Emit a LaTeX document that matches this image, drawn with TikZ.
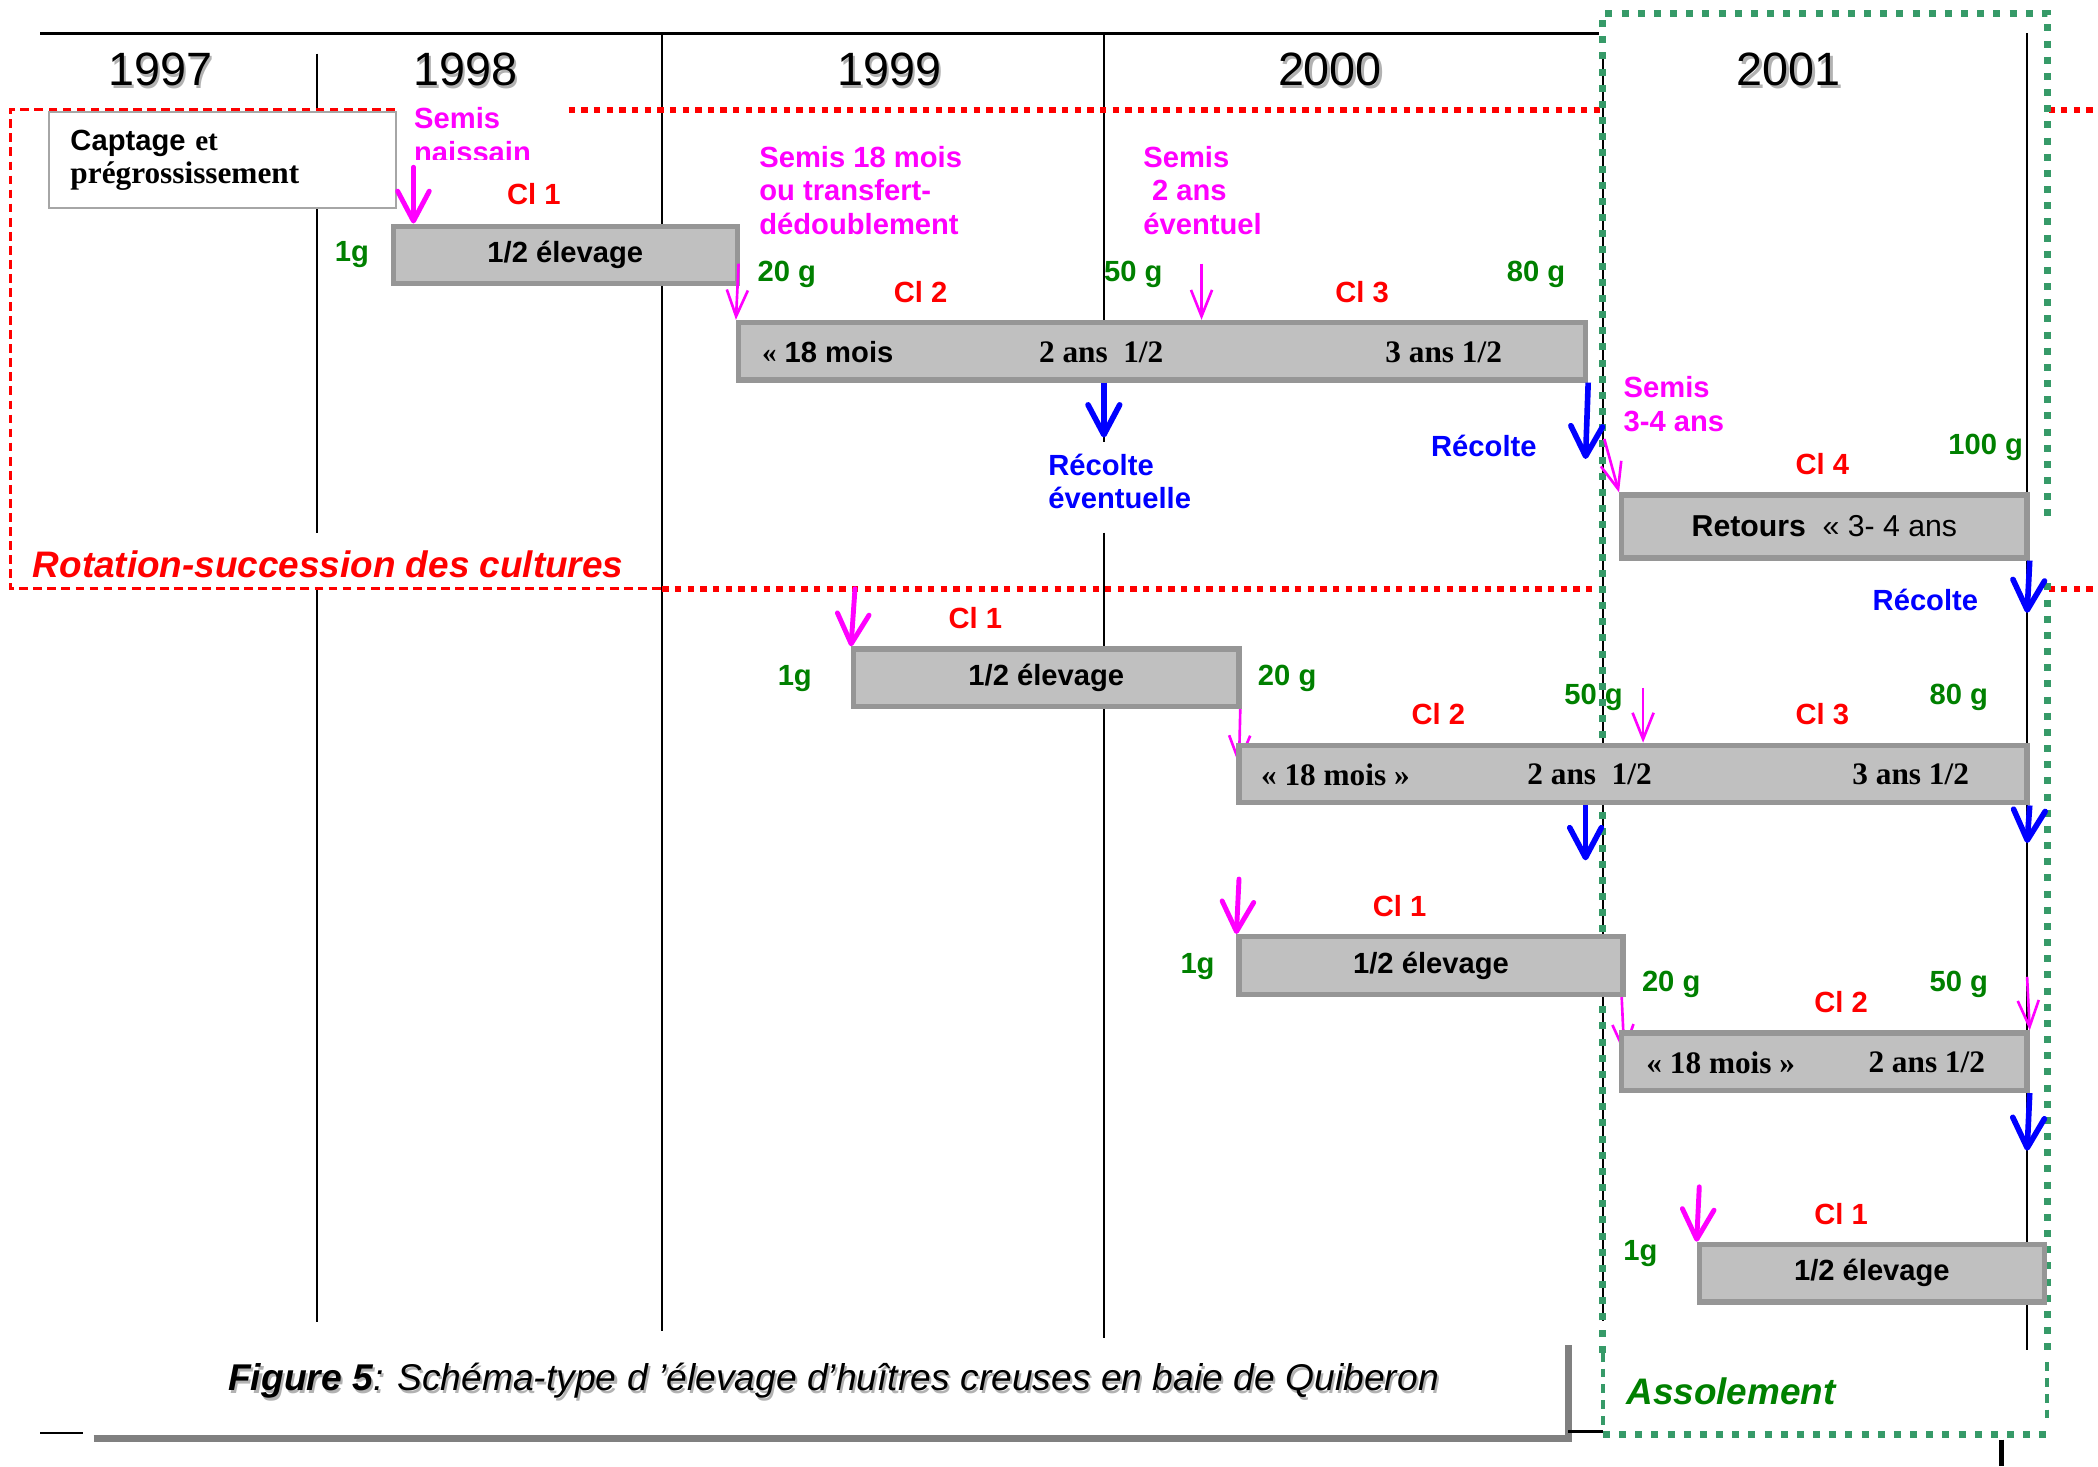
\documentclass[tikz,border=0pt]{standalone}
\usepackage{fontspec}
\setmainfont{Liberation Sans}
\newfontfamily\timesfont{Liberation Serif}
\usetikzlibrary{positioning}
\usetikzlibrary{fit}
\usetikzlibrary{arrows.meta}
\definecolor{semiscol}{HTML}{FF00FF}
\definecolor{cicol}{HTML}{FF0000}
\definecolor{poidscol}{HTML}{008000}
\definecolor{recoltecol}{HTML}{0000FF}
\definecolor{barfill}{HTML}{C0C0C0}
\definecolor{barline}{HTML}{969696}
\definecolor{assolcol}{HTML}{369A68}
\newcommand{\lblfont}{\fontsize{8.3}{9.46}\selectfont\bfseries}
\newcommand{\ombre}[1]{\leavevmode\rlap{\hspace{0.6pt}\raisebox{-0.6pt}{\textcolor{black!30}{#1}}}#1}
\tikzset{
    bar/.style={
           rectangle,
           draw=barline, line width=1.5pt,
           fill=barfill,
           inner sep=0pt,
           },
    bartxt/.style={inner sep=0pt, font=\lblfont},
    timestxt/.style={inner sep=0pt, font=\fontsize{8.9}{10}\selectfont\timesfont\bfseries},
    year/.style={font=\fontsize{13.3}{15}\selectfont},
    ci/.style={text=cicol, font=\lblfont},
    poids/.style={text=poidscol, font=\lblfont},
    semistxt/.style={text=semiscol, font=\lblfont, align=left, inner sep=0pt, anchor=north west},
    recoltetxt/.style={text=recoltecol, font=\lblfont, align=left, inner sep=0pt},
    semis/.style={draw=semiscol, line width=1.4pt, line cap=round,
                  -{Straight Barb[length=8.5pt,width=9pt,round]}},
    semisfin/.style={draw=semiscol, line width=0.75pt,
                  -{Straight Barb[length=7.5pt,width=6pt]}},
    recolte/.style={draw=recoltecol, line width=1.6pt,
                  -{Straight Barb[length=8.5pt,width=9pt,round]}},
    sep/.style={line width=0.6pt},
    rotfin/.style={draw=cicol, line width=0.9pt, dash pattern=on 2.5pt off 1.5pt},
    rotdot/.style={draw=cicol, line width=1.8pt, dash pattern=on 1.8pt off 1.8pt},
    assoldot/.style={draw=assolcol, line width=2pt, dash pattern=on 2pt off 2.6pt},
    assolfin/.style={draw=assolcol, line width=1.1pt, dash pattern=on 2.5pt off 2pt},
}
\begin{document}
\begin{tikzpicture}[x=0.1338mm, y=-0.1338mm]
\useasboundingbox (0,0) rectangle (1568,1096);

% annees
\draw[sep] (30,25) -- (1195,25);
\foreach \xx/\ya/\yb in {237/40/398, 237/440/988, 495/25/995, 825/25/330,
                         825/398/1000, 1198/40/987, 1515/25/1009}
    \draw[sep] (\xx,\ya) -- (\xx,\yb);
\node[year] (y1997) at (120,53) {\ombre{1997}};
\node[year] (y1998) at (348,53) {\ombre{1998}};
\node[year] (y1999) at (665,53) {\ombre{1999}};
\node[year] (y2000) at (994,53) {\ombre{2000}};
\node[year] (y2001) at (1337,53) {\ombre{2001}};

% rotation-succession
\node[draw=gray!70, line width=0.6pt, fill=white, anchor=north west,
      minimum width=34.65mm, minimum height=9.63mm, inner xsep=2.1mm,
      text width=30.4mm, align=left, font=\lblfont] (captage) at (36,83)
      {Captage {\timesfont et}\\{\timesfont\fontsize{8.9}{9.46}\selectfont prégrossissement}};
\draw[rotfin] (295,82) -- (8,82) -- (8,440) -- (495,440);
\draw[rotdot] (425,82) -- (1196,82);
\draw[rotdot] (495,440) -- (1196,440);
\draw[rotdot] (1531,82) -- (1568,82);
\draw[rotdot] (1531,440) -- (1568,440);
\node[anchor=west, inner sep=0pt, text=cicol,
      font=\fontsize{10.5}{12}\selectfont\bfseries\itshape] (rotation) at (24,422)
      {Rotation-succession des cultures};

% assolement
\draw[assoldot] (1198,1011) -- (1198,10) -- (1530,10) -- (1530,387);
\draw[assoldot] (1530,436) -- (1530,1014);
\draw[assoldot] (1198,1072) -- (1530,1072);
\draw[assolfin] (1198,1011) -- (1198,1070);
\draw[assolfin] (1530,1018) -- (1530,1060);
\node[anchor=west, inner sep=0pt, text=poidscol,
      font=\fontsize{10.5}{12}\selectfont\bfseries\itshape] (assol) at (1215,1040)
      {Assolement};

% fleches cachees sous les barres
\coordinate (s6) at (927,528);
\draw[semisfin] (s6) -- (926,572);
\coordinate (s9) at (1212,745);
\draw[semisfin] (s9) -- (1214,788);

% barres
\node[bar, fit={(294,169) (551,212)}, label={[bartxt]center:1/2 élevage}] (barA) {};
\node[bar, fit={(552,241) (1185,284)}] (barB) {};
\node[bar, fit={(1212,370) (1515,417)},
      label={[inner sep=0pt, font=\fontsize{8.6}{10}\selectfont]center:\textbf{Retours}~~« 3- 4 ans}] (barC) {};
\node[bar, fit={(638,485) (926,528)}, label={[bartxt]center:1/2 élevage}] (barD) {};
\node[bar, fit={(926,557) (1515,600)}] (barE) {};
\node[bar, fit={(926,700) (1213,743)}, label={[bartxt]center:1/2 élevage}] (barF) {};
\node[bar, fit={(1212,772) (1515,815)}] (barG) {};
\node[bar, fit={(1270,930) (1528,973)}, label={[bartxt]center:1/2 élevage}] (barH) {};

\node[bartxt, anchor=west] (b18) at (569,263) {{\timesfont «} 18 mois};
\node[timestxt] (b2a) at (823,263) {2 ans~~1/2};
\node[timestxt] (b3a) at (1079,263) {3 ans 1/2};
\node[timestxt, anchor=west] (e18) at (942,579) {« 18 mois »};
\node[timestxt] (e2a) at (1188,579) {2 ans~~1/2};
\node[timestxt] (e3a) at (1428,579) {3 ans 1/2};
\node[timestxt, anchor=west] (g18) at (1230,794) {« 18 mois »};
\node[timestxt] (g2a) at (1440,794) {2 ans 1/2};

% semis
\begin{scope}
\clip (300,74) rectangle (430,119);
\node[semistxt] (semis0) at (309,80) {Semis\\naissain};
\end{scope}
\node[semistxt] (semis18) at (567,109) {Semis 18 mois\\ou transfert-\\dédoublement};
\node[semistxt] (semis2) at (854,109) {Semis\\\hspace*{0.3em}2 ans\\éventuel};
\node[semistxt] (semis34) at (1213,281) {Semis\\3-4 ans};

\coordinate (s1) at (309,125);
\draw[semis] (s1) -- (s1 |- barA.north);
\coordinate (s2) at (552,197);
\draw[semisfin] (s2) -- (barB.north west);
\coordinate (s3) at (898,197);
\draw[semisfin] (s3) -- (s3 |- barB.north);
\coordinate (s4) at (1199,328);
\draw[semisfin] (s4) -- (barC.north west);
\coordinate (s5) at (639,440);
\draw[semis] (s5) -- (barD.north west);
\coordinate (s7) at (1228,514);
\draw[semisfin] (s7) -- (s7 |- barE.north);
\coordinate (s8) at (926,657);
\draw[semis] (s8) -- (barF.north west);
\coordinate (s10) at (1515,730);
\draw[semisfin] (s10) -- (barG.north east);
\coordinate (s11) at (1270,887);
\draw[semis] (s11) -- (barH.north west);

% recolte
\node[recoltetxt, anchor=north west] (rec1) at (783,339) {Récolte\\éventuelle};
\node[recoltetxt] (rec2) at (1109,333) {Récolte};
\node[recoltetxt] (rec3) at (1439,448) {Récolte};
\coordinate (r1) at (825,327);
\draw[recolte] (r1 |- barB.south) -- (r1);
\coordinate (r2) at (1185,343);
\draw[recolte] (barB.south east) -- (r2);
\coordinate (r3) at (1515,458);
\draw[recolte] (barC.south east) -- (r3);
\coordinate (r4) at (1185,643);
\draw[recolte] (r4 |- barE.south) -- (r4);
\coordinate (r5) at (1515,630);
\draw[recolte] (barE.south east) -- (r5);
\coordinate (r6) at (1515,860);
\draw[recolte] (barG.south east) -- (r6);

% classes
\node[ci] (ci1a) at (399,145) {Cl 1};
\node[ci] (ci2a) at (688,218) {Cl 2};
\node[ci] (ci3a) at (1018,218) {Cl 3};
\node[ci] (ci4a) at (1362,347) {Cl 4};
\node[ci] (ci1b) at (729,462) {Cl 1};
\node[ci] (ci2b) at (1075,534) {Cl 2};
\node[ci] (ci3b) at (1362,534) {Cl 3};
\node[ci] (ci1c) at (1046,677) {Cl 1};
\node[ci] (ci2c) at (1376,749) {Cl 2};
\node[ci] (ci1d) at (1376,907) {Cl 1};

% poids
\node[poids] (p1a) at (263,190) {1g};
\node[poids] (p20a) at (588,205) {20 g};
\node[poids] (p50a) at (847,205) {50 g};
\node[poids] (p80a) at (1148,205) {80 g};
\node[poids] (p100) at (1484,334) {100 g};
\node[poids] (p1b) at (594,507) {1g};
\node[poids] (p20b) at (962,507) {20 g};
\node[poids] (p50b) at (1191,521) {50 g};
\node[poids] (p80b) at (1464,521) {80 g};
\node[poids] (p1c) at (895,722) {1g};
\node[poids] (p20c) at (1249,736) {20 g};
\node[poids] (p50c) at (1464,736) {50 g};
\node[poids] (p1d) at (1226,937) {1g};

% legende
\draw[draw=gray, line width=1.9pt] (70,1075) -- (1172,1075) -- (1172,1005);
\draw[line width=0.8pt] (30,1071) -- (62,1071);
\draw[line width=0.8pt] (1172,1070) -- (1198,1070);
\draw[line width=1.4pt] (1496,1076) -- (1496,1096);
\node[anchor=west, inner sep=0pt, font=\fontsize{10.6}{12}\selectfont\itshape] (legende)
      at (170,1033) {\ombre{\textbf{Figure 5}: Schéma-type d ’élevage d’huîtres creuses en baie de Quiberon}};
\end{tikzpicture}
\end{document}
